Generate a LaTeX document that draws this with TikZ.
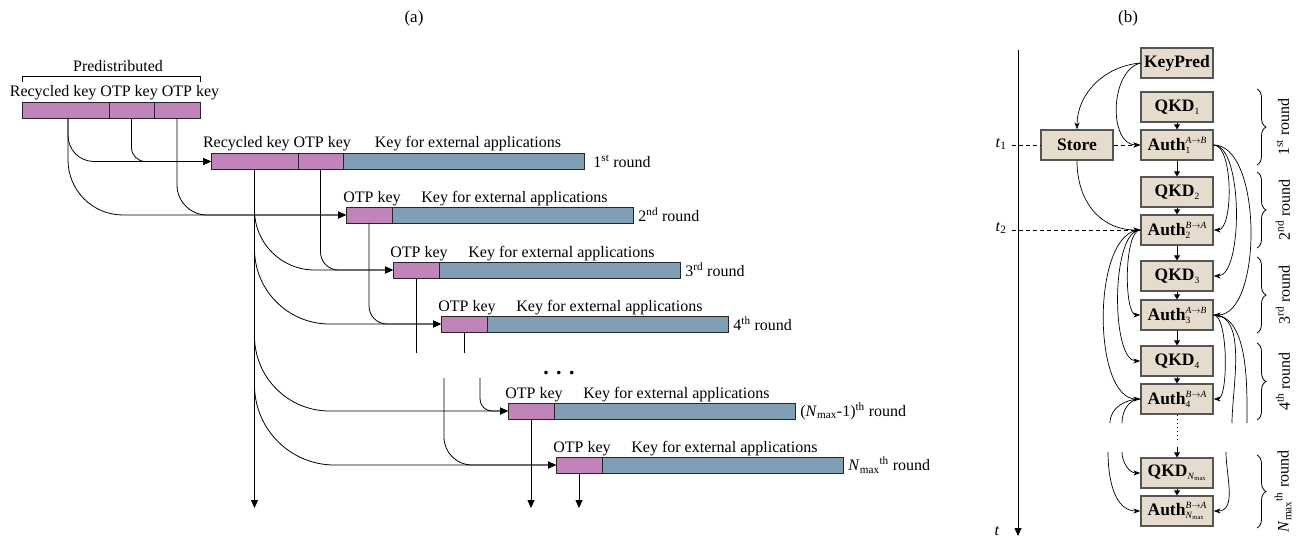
\documentclass[tikz,border=0pt]{standalone}
\usepackage{fontspec}
\setmainfont{Liberation Serif}
\usepackage{tikz}
\usetikzlibrary{positioning,arrows.meta,decorations.pathreplacing}

\definecolor{keypink}{RGB}{193,132,186}
\definecolor{keyblue}{RGB}{128,158,180}
\definecolor{boxbeige}{RGB}{230,220,206}
\definecolor{boxline}{RGB}{85,85,85}

\newcommand{\idxfont}{\fontsize{9.5}{10}\selectfont\mdseries}
\newcommand{\idx}[1]{\raisebox{-3pt}{\idxfont #1}}
\newcommand{\authsym}[3]{Auth\rlap{\raisebox{-3pt}{\idxfont #3}}\raisebox{7pt}{\idxfont\itshape #1$\rightarrow$#2}}

\tikzset{
  seg/.style={draw=black!85, line width=0.9pt, minimum height=16pt, inner sep=0pt, outer sep=0pt},
  pinkseg/.style={seg, fill=keypink},
  blueseg/.style={seg, fill=keyblue, minimum width=241pt},
  lbl/.style={font=\fontsize{16}{18}\selectfont, inner sep=0pt},
  ttl/.style={font=\fontsize{17}{20}\selectfont, inner sep=0pt},
  proc/.style={draw=boxline, line width=1.3pt, fill=boxbeige, minimum width=72pt, minimum height=30pt, inner sep=0pt, font=\fontsize{17.5}{20}\selectfont\bfseries},
  link/.style={-{Triangle[length=5pt,width=6pt]}, line width=0.8pt},
  flow/.style={-{Stealth[length=7pt,width=5pt]}, line width=0.7pt},
  brc/.style={decorate, decoration={brace, amplitude=9pt}, line width=0.8pt},
}

\begin{document}
\begin{tikzpicture}[x=1pt, y=-1pt, line width=0.8pt, >={Triangle[length=8pt,width=7pt]}]
\useasboundingbox (0,0) rectangle (1306,538);

% Panel titles
\node[ttl] (capa) at (414,18) {(a)};
\node[ttl] (capb) at (1128,18) {(b)};

% ---------------- (a) key consumption ----------------
% predistributed key
\node[pinkseg, minimum width=87pt, anchor=west] (p0rec) at (22,110) {};
\node[pinkseg, minimum width=45pt, right=0pt of p0rec] (p0otpa) {};
\node[pinkseg, minimum width=46pt, right=0pt of p0otpa] (p0otpb) {};
\node[lbl, anchor=base] (p0lab) at (114.5,96) {Recycled key OTP key OTP key};
\draw[line width=0.6pt] (p0rec.west |- 0,82) -- (p0rec.west |- 0,76) -- (p0otpb.east |- 0,76) -- (p0otpb.east |- 0,82);
\node[lbl, anchor=base] (predist) at (118,71.5) {Predistributed};

% first round
\node[pinkseg, minimum width=87pt, anchor=west] (r1rec) at (211,161.5) {};
\node[pinkseg, minimum width=45pt, right=0pt of r1rec] (r1otp) {};
\node[blueseg, right=0pt of r1otp] (r1ext) {};
\node[lbl, anchor=base] (r1lab) at (277,147) {Recycled key OTP key};
\node[lbl, anchor=base] (r1keylab) at (468,147) {Key for external applications};
\node[lbl, right=9pt of r1ext] (r1rnd) {1\textsuperscript{st} round};

% later rounds
\foreach \n/\x/\y/\lab in {2/346/215/2\textsuperscript{nd}, 3/393/270/3\textsuperscript{rd}, 4/441/324/4\textsuperscript{th}, m/508/411/{(\textit{N}\textsubscript{max}-1)\textsuperscript{th}}, n/556/465/{\textit{N}\textsubscript{max}\textsuperscript{th}}}{
  \node[pinkseg, minimum width=46pt, anchor=west] (r\n otp) at (\x,\y) {};
  \node[blueseg, right=0pt of r\n otp] (r\n ext) {};
  \node[lbl, anchor=base] (r\n lab) at ([xshift=3pt,yshift=4.5pt]r\n otp.north) {OTP key};
  \node[lbl, anchor=base] (r\n keylab) at ([xshift=2pt,yshift=4.5pt]r\n ext.north) {Key for external applications};
  \node[lbl, right=5pt of r\n ext] (r\n rnd) {\lab\ round};
}
\node[font=\fontsize{22}{24}\selectfont\bfseries, inner sep=0pt, anchor=base] (gapdots) at (559,374) {. . .};

% free ends
\coordinate (bot1) at (r1rec.south |- 0,508);
\coordinate (botm) at (rmotp.south |- 0,508);
\coordinate (botn) at (rnotp.south |- 0,508);
\coordinate (cut3) at (r3otp.south |- 0,353);
\coordinate (cut4) at (r4otp.south |- 0,353);
\coordinate (res3) at (444,378);
\coordinate (res4) at (480,378);

% keys feeding the rounds
\draw[->, rounded corners=26pt] ([xshift=2.5pt]p0rec.south) |- (r1rec.west);
\draw[->, rounded corners=14pt] (p0otpa.south) |- (r1rec.west);
\draw[->, rounded corners=55pt] ([xshift=2.5pt]p0rec.south) |- (r2otp.west);
\draw[->, rounded corners=30pt] (p0otpb.south) |- (r2otp.west);
\draw[->, rounded corners=60pt] (r1rec.south) |- (r3otp.west);
\draw[->, rounded corners=75pt] (r1rec.south) |- (r4otp.west);
\draw[->, rounded corners=75pt] (r1rec.south) |- (rmotp.west);
\draw[->, rounded corners=80pt] (r1rec.south) |- (rnotp.west);
\draw[->] (r1rec.south) -- (bot1);
\draw[->, rounded corners=18pt] (r1otp.south) |- (r3otp.west);
\draw[->, rounded corners=18pt] (r2otp.south) |- (r4otp.west);
\draw (r3otp.south) -- (cut3);
\draw (r4otp.south) -- (cut4);
\draw[->, rounded corners=28pt] (res3) |- (rnotp.west);
\draw[->, rounded corners=12pt] (res4) |- (rmotp.west);
\draw[->] (rmotp.south) -- (botm);
\draw[->] (rnotp.south) -- (botn);

% ---------------- (b) protocol timeline ----------------
\coordinate (ttop) at (1018,50);
\coordinate (tbot) at (1018,536);
\draw[->] (ttop) -- (tbot);
\node[lbl, anchor=base] (tlab) at (997,535) {\textit{t}};

\node[proc] (keypred) at (1177,63) {KeyPred};
\node[proc] (qkd1) at (1177,107) {QKD\idx{1}};
\node[proc] (auth1) at (1177,145) {\authsym{A}{B}{1}};
\node[proc] (qkd2) at (1177,192) {QKD\idx{2}};
\node[proc] (auth2) at (1177,230) {\authsym{B}{A}{2}};
\node[proc] (qkd3) at (1177,276) {QKD\idx{3}};
\node[proc] (auth3) at (1177,315) {\authsym{A}{B}{3}};
\node[proc] (qkd4) at (1177,361) {QKD\idx{4}};
\node[proc] (auth4) at (1177,399) {\authsym{B}{A}{4}};
\node[proc] (qkdn) at (1177,473) {QKD\idx{\textit{N}\textsubscript{max}}};
\node[proc] (authn) at (1177,511) {\authsym{B}{A}{\textit{N}\textsubscript{max}}};
\node[proc] (store) at (1077,145) {Store};

% sequence arrows
\foreach \a/\b in {qkd1/auth1, auth1/qkd2, qkd2/auth2, auth2/qkd3, qkd3/auth3, auth3/qkd4, qkd4/auth4, qkdn/authn}
  \draw[link] (\a.south) -- (\b.north);
\coordinate (dotend) at (1177,442);
\coordinate (dotres) at (1177,447);
\draw[line width=1pt, dash pattern=on 1pt off 3pt] (auth4.south) -- (dotend);
\draw[link] (dotres) -- (qkdn.north);

% time marks
\node[lbl] (t1lab) at (1001,144) {\textit{t}\textsubscript{1}};
\node[lbl] (t2lab) at (1001,228) {\textit{t}\textsubscript{2}};
\coordinate (t1mark) at (1012,145);
\coordinate (t2mark) at (1012,230);
\draw[dash pattern=on 4pt off 3pt, line width=0.7pt] (t1mark) -- (store.west);
\draw[flow, dash pattern=on 4pt off 3pt] (t2mark) -- (auth2.west);
\draw[flow, dash pattern=on 4pt off 3pt] (store.east) -- (auth1.west);

% key handovers
\draw[flow] (keypred.west) to[out=185,in=90] (store.north);
\draw[flow] (keypred.west) to[out=195,in=180] (auth1.west);
\draw[flow] (store.south) to[out=-90,in=180,looseness=1.1] (auth2.west);
\draw[flow] (auth1.east) to[out=0,in=0,looseness=0.6] (auth2.east);
\draw[flow] (auth1.east) to[out=0,in=0,looseness=0.58] (qkd3.east);
\draw[flow] (auth1.east) to[out=0,in=0,looseness=0.74] (auth3.east);
\draw[flow] (auth2.west) to[out=180,in=180,looseness=0.5] (auth3.west);
\draw[flow] (auth2.west) to[out=180,in=180,looseness=0.58] (qkd4.west);
\draw[flow] (auth2.west) to[out=180,in=180,looseness=0.74] (auth4.west);
\draw[flow] (auth3.east) to[out=0,in=0,looseness=0.45] (auth4.east);

\coordinate (cutra) at (1232,423);
\coordinate (cutrb) at (1247,423);
\coordinate (cutla) at (1122,423);
\coordinate (cutlb) at (1110,423);
\coordinate (resla) at (1122,452);
\coordinate (reslb) at (1108,452);
\coordinate (resra) at (1226,452);
\draw[line width=0.7pt] (auth3.east) to[out=0,in=90,looseness=0.8] (cutra);
\draw[line width=0.7pt] (auth3.east) to[out=0,in=90,looseness=0.8] (cutrb);
\draw[line width=0.7pt] (auth4.west) to[out=180,in=90] (cutla);
\draw[line width=0.7pt] (auth4.west) to[out=180,in=90] (cutlb);
\draw[flow] (resla) to[out=-90,in=180] (qkdn.west);
\draw[flow] (reslb) to[out=-90,in=180] (authn.west);
\draw[flow] (resra) to[out=-90,in=0] (authn.east);

% round braces
\foreach \t/\b/\lab in {89/165/1\textsuperscript{st}, 172/248/2\textsuperscript{nd}, 257/333/3\textsuperscript{rd}, 343/420/4\textsuperscript{th}, 455/528/{\textit{N}\textsubscript{max}\textsuperscript{th}}}{
  \draw[brc] (1257,\t) -- (1257,\b);
  \node[lbl, rotate=90] (rnd\t) at (1283,{(\t+\b)/2}) {\lab\ round};
}
\end{tikzpicture}
\end{document}
